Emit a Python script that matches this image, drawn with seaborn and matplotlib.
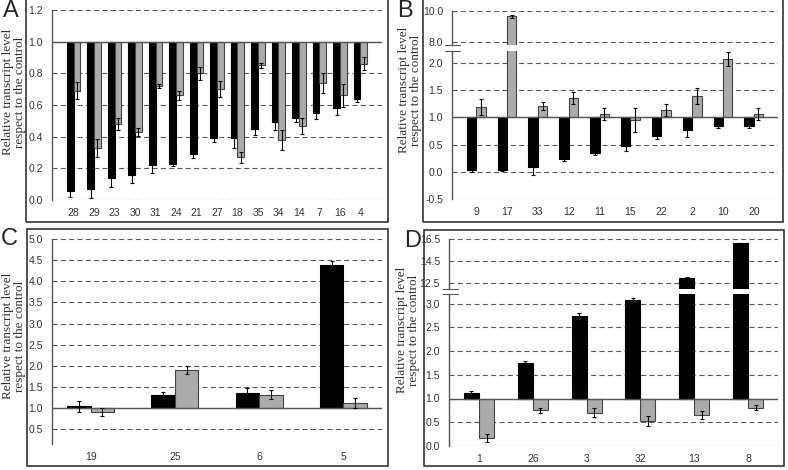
import numpy as np
import pandas as pd
import seaborn as sns
import matplotlib.pyplot as plt
from matplotlib.patches import Rectangle

# panel A
a_genes = ['28', '29', '23', '30', '31', '24', '21', '27', '18', '35', '34', '14', '7', '16', '4']
a_black = [0.06, 0.07, 0.14, 0.16, 0.22, 0.23, 0.29, 0.39, 0.39, 0.45, 0.49, 0.52, 0.55, 0.58, 0.64]
a_black_err = [0.04, 0.06, 0.06, 0.055, 0.05, 0.015, 0.025, 0.025, 0.06, 0.04, 0.045, 0.03, 0.04, 0.045, 0.02]
a_gray = [0.69, 0.33, 0.48, 0.43, 0.72, 0.66, 0.80, 0.70, 0.27, 0.85, 0.38, 0.47, 0.74, 0.66, 0.86]
a_gray_err = [0.055, 0.057, 0.04, 0.025, 0.013, 0.03, 0.04, 0.05, 0.035, 0.015, 0.065, 0.05, 0.065, 0.07, 0.04]

# panel B
b_genes = ['9', '17', '33', '12', '11', '15', '22', '2', '10', '20']
b_black = [0.04, 0.04, 0.08, 0.24, 0.34, 0.48, 0.65, 0.77, 0.84, 0.85]
b_black_err = [0.05, 0.03, 0.14, 0.04, 0.04, 0.10, 0.04, 0.13, 0.04, 0.05]
b_gray = [1.19, 9.65, 1.21, 1.36, 1.07, 0.95, 1.14, 1.39, 2.08, 1.07]
b_gray_err = [0.15, 0.10, 0.08, 0.11, 0.11, 0.22, 0.11, 0.15, 0.13, 0.11]

# panel C
c_genes = ['19', '25', '6', '5']
c_black = [1.04, 1.30, 1.35, 4.38]
c_black_err = [0.13, 0.08, 0.12, 0.11]
c_gray = [0.91, 1.90, 1.32, 1.11]
c_gray_err = [0.10, 0.09, 0.10, 0.12]

# panel D
d_genes = ['1', '26', '3', '32', '13', '8']
d_black = [1.12, 1.755, 2.74, 3.08, 12.95, 16.1]
d_black_err = [0.03, 0.04, 0.05, 0.04, 0.05, 0.05]
d_gray = [0.17, 0.75, 0.70, 0.53, 0.65, 0.81]
d_gray_err = [0.08, 0.06, 0.09, 0.10, 0.08, 0.06]

BASE = 1.0
YLABEL = 'Relative transcript level\nrespect to the control'

sns.set_style('white')
plt.rcParams['font.family'] = ['Liberation Sans', 'DejaVu Sans']

W, H = 788, 470
fig = plt.figure(figsize=(W / 100, H / 100), dpi=100)


def add_ax(l, t, r, b):
    return fig.add_axes([l / W, 1 - b / H, (r - l) / W, (b - t) / H])


def bars(ax, genes, black, black_err, gray, gray_err, width):
    n = len(genes)
    df = pd.DataFrame({'gene': genes * 2,
                       'series': ['dark'] * n + ['light'] * n,
                       'value': black + gray})
    df['height'] = df['value'] - BASE
    sns.barplot(data=df, x='gene', y='height', hue='series', order=genes,
                hue_order=['dark', 'light'], palette=['black', '#ababab'],
                width=width, errorbar=None, legend=False, bottom=BASE,
                zorder=2, ax=ax)
    for cont, err, ec in zip(ax.containers, [black_err, gray_err], ['black', '#444444']):
        xs, ys = [], []
        for p in cont:
            p.set_edgecolor(ec)
            p.set_linewidth(0.8)
            xs.append(p.get_x() + p.get_width() / 2)
            ys.append(p.get_y() + p.get_height())
        ax.errorbar(xs, ys, yerr=err, fmt='none', ecolor='black', elinewidth=0.8,
                    capsize=1.6, capthick=0.8, zorder=3)
    ax.axhline(BASE, color='#555555', lw=1.0, zorder=2.5)


def style(ax, ticks, lim, show_x=True):
    ax.set_ylim(*lim)
    ax.set_yticks(ticks)
    ax.set_yticklabels([f'{t:.1f}' for t in ticks])
    ax.yaxis.grid(True, linestyle=(0, (4.5, 3)), color='#5a5a5a', lw=0.8)
    ax.set_axisbelow(True)
    for s in ['top', 'right', 'bottom']:
        ax.spines[s].set_visible(False)
    ax.spines['left'].set_color('#555555')
    ax.spines['left'].set_linewidth(1.0)
    ax.tick_params(axis='y', length=0, pad=6.5, labelsize=7.5, labelcolor='#333333')
    ax.tick_params(axis='x', length=0, pad=5.5, labelsize=7.5, labelcolor='#333333',
                   labelbottom=show_x)
    ax.set_xlabel('')
    ax.set_ylabel('')


def break_marks(ax_up, ax_lo, x0, x1):
    for ax, y in [(ax_up, 0), (ax_lo, 1)]:
        ax.plot([x0, x1], [y, y], transform=ax.transAxes, color='#555555',
                lw=0.8, clip_on=False)


# A
ax = add_ax(52, 10, 382, 200)
bars(ax, a_genes, a_black, a_black_err, a_gray, a_gray_err, 0.65)
style(ax, np.arange(0, 1.21, 0.2), (0, 1.2))

# B (broken axis)
ax_up = add_ax(452, 11, 778, 45)
bars(ax_up, b_genes, b_black, b_black_err, b_gray, b_gray_err, 0.61)
style(ax_up, [8.0, 10.0], (7.8, 10.0), show_x=False)
ax_lo = add_ax(452, 51, 778, 199)
bars(ax_lo, b_genes, b_black, b_black_err, b_gray, b_gray_err, 0.61)
style(ax_lo, np.arange(-0.5, 2.01, 0.5), (-0.5, 2.22))
break_marks(ax_up, ax_lo, -0.022, 0.025)

# C
ax = add_ax(52, 239, 382, 444)
bars(ax, c_genes, c_black, c_black_err, c_gray, c_gray_err, 0.56)
style(ax, np.arange(0.5, 5.01, 0.5), (0.15, 5.0))

# D (broken axis)
ax_up = add_ax(449, 239, 778, 289)
bars(ax_up, d_genes, d_black, d_black_err, d_gray, d_gray_err, 0.56)
style(ax_up, [12.5, 14.5, 16.5], (11.95, 16.5), show_x=False)
ax_lo = add_ax(449, 294, 778, 446)
bars(ax_lo, d_genes, d_black, d_black_err, d_gray, d_gray_err, 0.56)
style(ax_lo, np.arange(0, 3.01, 0.5), (0, 3.2))
break_marks(ax_up, ax_lo, -0.019, 0.026)

# panel boxes, letters and y labels
for l, t, r, b in [(26, -2, 388, 222), (423, -2, 783, 222),
                   (27, 229, 388, 466), (424, 230, 784, 466)]:
    fig.add_artist(Rectangle((l / W, 1 - b / H), (r - l) / W, (b - t) / H,
                             transform=fig.transFigure, fill=False,
                             ec='#333333', lw=1.2))

for letter, x, y in [('A', 3, 0), ('B', 397, 0), ('C', 1, 228), ('D', 404, 230)]:
    fig.text(x / W, 1 - y / H, letter, fontsize=17, ha='left', va='top')

for x, y in [(14, 92), (410, 90), (14, 336), (408, 330)]:
    fig.text(x / W, 1 - y / H, YLABEL, rotation=90, ha='center', va='center',
             family='Liberation Serif', fontsize=9.5, linespacing=0.95,
             color='#333333')

plt.savefig('out.png', dpi=100)
